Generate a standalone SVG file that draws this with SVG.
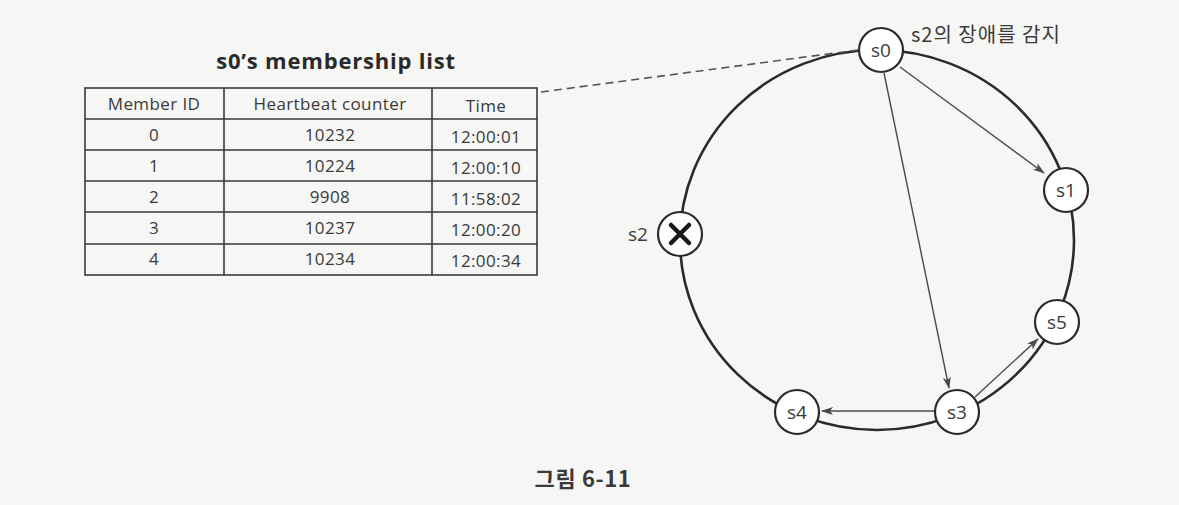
<svg xmlns="http://www.w3.org/2000/svg" width="1179" height="505" viewBox="0 0 1179 505">
<style>
text{font-family:"Open Sans","Noto Sans","Noto Sans CJK KR",sans-serif;fill:#3a3a3a}
.cell{font-size:17px;letter-spacing:0.4px;text-anchor:middle}
.grid{stroke:#3a3a3a;stroke-width:1.6;fill:none}
.node circle{fill:#fff;stroke:#2a2a2a;stroke-width:2.2}
.node text{font-size:19px;text-anchor:middle}
.ring{fill:none;stroke:#2a2a2a;stroke-width:2.6}
.arrow{stroke:#4a4a4a;stroke-width:1.4;fill:none;marker-end:url(#ah)}
.kr{font-family:"Noto Sans CJK KR","Noto Sans",sans-serif}
</style>
<defs>
<marker id="ah" viewBox="0 0 12 8" refX="11" refY="4" markerWidth="12" markerHeight="8" markerUnits="userSpaceOnUse" orient="auto">
<path d="M0,0 L12,4 L0,8 L3,4 Z" fill="#4a4a4a"/>
</marker>
</defs>
<rect width="1179" height="505" fill="#f6f6f4"/>

<g id="table">
<text x="336" y="69" style="font-size:22px;letter-spacing:0.8px;font-weight:700;text-anchor:middle;fill:#2a2a2a">s0’s membership list</text>
<rect class="grid" x="85" y="88" width="452" height="187" fill="#fff"/>
<path class="grid" d="M85,119H537M85,150H537M85,181H537M85,212H537M85,244H537M224,88V275M432,88V275"/>
<text class="cell" x="154" y="110">Member ID</text>
<text class="cell" x="330" y="110">Heartbeat counter</text>
<text class="cell" x="486" y="112">Time</text>
<text class="cell" x="154" y="141">0</text>
<text class="cell" x="330" y="141">10232</text>
<text class="cell" x="486" y="143">12:00:01</text>
<text class="cell" x="154" y="172">1</text>
<text class="cell" x="330" y="172">10224</text>
<text class="cell" x="486" y="174">12:00:10</text>
<text class="cell" x="154" y="203">2</text>
<text class="cell" x="330" y="203">9908</text>
<text class="cell" x="486" y="205">11:58:02</text>
<text class="cell" x="154" y="234">3</text>
<text class="cell" x="330" y="234">10237</text>
<text class="cell" x="486" y="236">12:00:20</text>
<text class="cell" x="154" y="265">4</text>
<text class="cell" x="330" y="265">10234</text>
<text class="cell" x="486" y="267">12:00:34</text>
</g>

<g id="connectors">
<ellipse class="ring" cx="877" cy="240" rx="197" ry="190"/>
<line x1="541" y1="92" x2="858" y2="50" stroke="#555" stroke-width="1.6" stroke-dasharray="8,5"/>
<line class="arrow" x1="900" y1="67" x2="1044" y2="173"/>
<line class="arrow" x1="884" y1="73" x2="949" y2="388"/>
<line class="arrow" x1="975" y1="397" x2="1038" y2="339"/>
<line class="arrow" x1="934" y1="411" x2="822" y2="411"/>
</g>

<g id="s0" class="node"><circle cx="881" cy="50" r="22"/><text x="881" y="57">s0</text></g>
<g id="s1" class="node"><circle cx="1066" cy="190" r="22"/><text x="1066" y="197">s1</text></g>
<g id="s2" class="node"><circle cx="680" cy="234" r="22"/>
<path d="M671,225L689,243M689,225L671,243" stroke="#1a1a1a" stroke-width="4.5" stroke-linecap="round"/></g>
<text x="638" y="241" style="font-size:19px;text-anchor:middle">s2</text>
<g id="s5" class="node"><circle cx="1057" cy="322" r="22"/><text x="1057" y="329">s5</text></g>
<g id="s3" class="node"><circle cx="957" cy="412" r="22"/><text x="957" y="419">s3</text></g>
<g id="s4" class="node"><circle cx="797" cy="412" r="22"/><text x="797" y="419">s4</text></g>

<text class="kr" x="911" y="42" style="font-size:20px;letter-spacing:1px">s2의 장애를 감지</text>
<text class="kr" x="583" y="487" style="font-size:22px;letter-spacing:0.6px;font-weight:700;text-anchor:middle">그림 6-11</text>
</svg>
